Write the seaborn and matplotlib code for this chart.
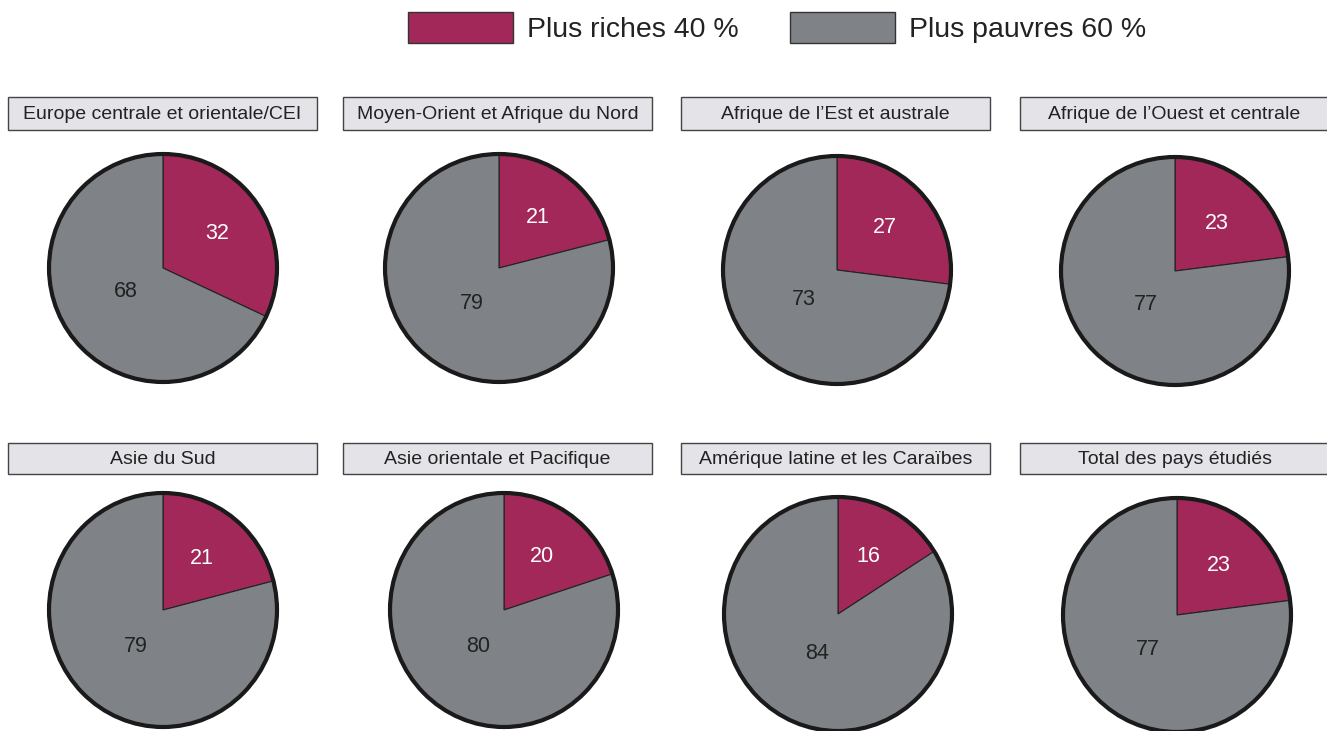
import matplotlib
matplotlib.use("Agg")
import matplotlib.pyplot as plt
from matplotlib.patches import Rectangle, Ellipse
import seaborn as sns

sns.set_style("white")
plt.rcParams['font.family'] = ['Liberation Sans', 'DejaVu Sans']

# ---- data ----
regions = [
    "Europe centrale et orientale/CEI",
    "Moyen-Orient et Afrique du Nord",
    "Afrique de l\u2019Est et australe",
    "Afrique de l\u2019Ouest et centrale",
    "Asie du Sud",
    "Asie orientale et Pacifique",
    "Amérique latine et les Caraïbes",
    "Total des pays étudiés",
]
richest40 = [32, 21, 27, 23, 21, 20, 16, 23]
poorest60 = [68, 79, 73, 77, 79, 80, 84, 77]
series_names = ["Plus riches 40 %", "Plus pauvres 60 %"]

RED = "#A3285A"
GREY = "#7F8286"
palette = sns.color_palette([RED, GREY])

W, H = 1327, 731
fig = plt.figure(figsize=(W / 100, H / 100), dpi=100)

def fx(px):
    return px / W

def fy(py):
    return 1 - py / H

# legend
for i, (name, bx, tx) in enumerate(zip(series_names, [408, 790], [527, 909])):
    fig.patches.append(Rectangle((fx(bx), fy(43)), fx(105), 31 / H,
                                 transform=fig.transFigure, facecolor=palette[i],
                                 edgecolor="#333333", linewidth=1.0))
    fig.text(fx(tx), fy(30), name, fontsize=20.5, va="center", ha="left", color="#222222")

# layout
box_x = [8, 343, 681, 1020]
box_w = 309
box_y = [(97, 130), (443, 474)]
centers = [
    (163, 268), (499, 268), (837, 270), (1175, 271),
    (163, 610), (504, 610), (838, 614), (1177, 615),
]
rx, ry_rows = 114, [114, 117]

for k, name in enumerate(regions):
    row, col = divmod(k, 4)
    y0, y1 = box_y[row]
    fig.patches.append(Rectangle((fx(box_x[col]), fy(y1)), fx(box_w), (y1 - y0) / H,
                                 transform=fig.transFigure, facecolor="#E3E3E8",
                                 edgecolor="#444444", linewidth=1.0))
    fig.text(fx(box_x[col] + box_w / 2), fy((y0 + y1) / 2 + 1), name, fontsize=14,
             ha="center", va="center", color="#222222")

    cx, cy = centers[k]
    ry = ry_rows[row]
    ax = fig.add_axes([fx(cx - rx), fy(cy + ry), fx(2 * rx), 2 * ry / H])
    vals = [richest40[k], poorest60[k]]
    wedges, texts, autotexts = ax.pie(
        vals, colors=palette, startangle=90, counterclock=False, radius=1,
        autopct=lambda p: f"{p:.0f}", pctdistance=0.56,
        wedgeprops=dict(edgecolor="#222222", linewidth=0.8),
        textprops=dict(fontsize=15.5),
    )
    autotexts[0].set_color("white")
    autotexts[1].set_color("#222222")
    gx, gy = autotexts[1].get_position()
    autotexts[1].set_position((gx * 0.39 / 0.56, gy * 0.39 / 0.56))
    ax.add_patch(Ellipse((0, 0), 2, 2, facecolor="none", edgecolor="#1a1a1a",
                         linewidth=3.0, clip_on=False))
    ax.set_aspect("auto")
    ax.set_xlim(-1, 1)
    ax.set_ylim(-1, 1)
    ax.axis("off")

fig.savefig("out.png", dpi=100)
